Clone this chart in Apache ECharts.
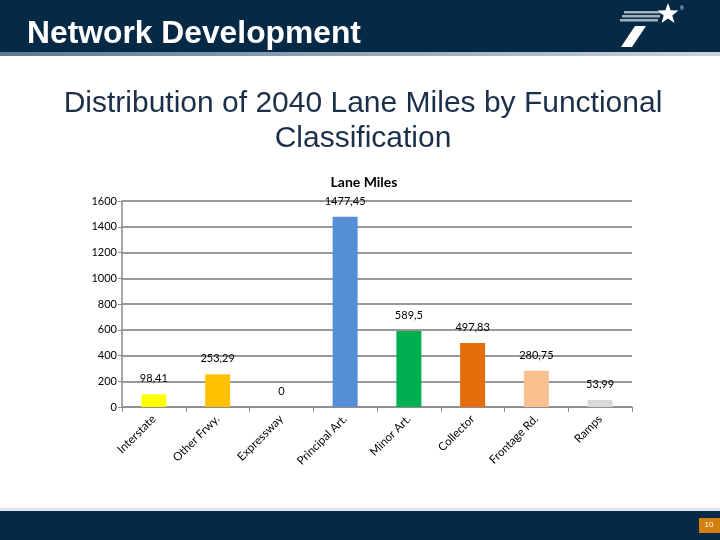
<!DOCTYPE html>
<html>
<head>
<meta charset="utf-8">
<script src="https://cdn.jsdelivr.net/npm/echarts@6/dist/echarts.min.js"></script>
<style>
html,body{margin:0;padding:0;background:#fff;}
#chart{width:720px;height:540px;}
</style>
</head>
<body>
<div id="chart"></div>
<script>
const categories = ['Interstate', 'Other Frwy.', 'Expressway', 'Principal Art.', 'Minor Art.', 'Collector', 'Frontage Rd.', 'Ramps'];
const laneMiles = [98.41, 253.29, 0, 1477.45, 589.5, 497.83, 280.75, 53.99];
const barColors = ['#ffff00', '#ffc000', '#4f81bd', '#558ed5', '#00b050', '#e46c0a', '#fac090', '#d9d9d9'];
const yTicks = [0, 200, 400, 600, 800, 1000, 1200, 1400, 1600];

const chart = echarts.init(document.getElementById('chart'));
const navy = '#062a45';

function starPoints(cx, cy, R, r) {
  const p = [];
  for (let i = 0; i < 10; i++) {
    const a = -Math.PI / 2 + i * Math.PI / 5;
    const rr = i % 2 ? r : R;
    p.push([cx + rr * Math.cos(a), cy + rr * Math.sin(a)]);
  }
  return p;
}

chart.setOption({
  animation: false,
  backgroundColor: '#ffffff',
  title: [
    {text: 'Lane Miles', left: 359, top: 170, textAlign: 'center',
     textStyle: {color: '#000', fontFamily: 'Lato', fontWeight: 'bold', fontSize: 14}}
  ],
  graphic: [
    {type: 'rect', shape: {x: 0, y: 0, width: 720, height: 52}, style: {fill: navy}, z: -1},
    {type: 'rect', shape: {x: 0, y: 52, width: 720, height: 4},
     style: {fill: new echarts.graphic.LinearGradient(0, 0, 1, 0, [{offset: 0, color: '#5d7a92'}, {offset: 1, color: '#c9d3db'}])}, z: -1},
    {type: 'rect', shape: {x: 0, y: 508, width: 720, height: 3}, style: {fill: '#dfe5ea'}, z: -1},
    {type: 'rect', shape: {x: 0, y: 511, width: 720, height: 29}, style: {fill: navy}, z: -1},
    {type: 'rect', shape: {x: 699, y: 518, width: 21, height: 15}, style: {fill: '#d4800c'}},
    {type: 'text', x: 709, y: 525, style: {text: '10', fill: '#fff', fontSize: 8, fontFamily: 'Liberation Sans', align: 'center', verticalAlign: 'middle'}},
    {type: 'text', x: 27, y: 34, z: 10, style: {text: 'Network Development', fill: '#ffffff', fontFamily: 'Liberation Sans', fontWeight: 'bold', fontSize: 31.8, align: 'left', verticalAlign: 'middle'}},
    {type: 'text', x: 363, y: 104, style: {text: 'Distribution of 2040 Lane Miles by Functional', fill: '#1b3048', fontFamily: 'Liberation Sans', fontSize: 30, align: 'center', verticalAlign: 'middle'}},
    {type: 'text', x: 363, y: 139, style: {text: 'Classification', fill: '#1b3048', fontFamily: 'Liberation Sans', fontSize: 30, align: 'center', verticalAlign: 'middle'}},
    // logo
    {type: 'rect', shape: {x: 624, y: 11, width: 38, height: 2.5}, style: {fill: '#9fb0c0'}},
    {type: 'rect', shape: {x: 622, y: 15, width: 38, height: 2.5}, style: {fill: '#9fb0c0'}},
    {type: 'rect', shape: {x: 620, y: 19, width: 38, height: 2.5}, style: {fill: '#9fb0c0'}},
    {type: 'polygon', shape: {points: [[621, 47], [632, 47], [646, 26], [635, 26]]}, style: {fill: '#ffffff'}},
    {type: 'polygon', shape: {points: starPoints(668, 14, 11, 4.5)}, style: {fill: '#ffffff'}},
    {type: 'text', x: 680, y: 6, style: {text: '®', fill: '#fff', fontSize: 5, fontFamily: 'Liberation Sans'}}
  ],
  grid: {left: 122, right: 88, top: 201, bottom: 133, containLabel: false},
  xAxis: {
    type: 'category',
    data: categories,
    axisLine: {lineStyle: {color: '#8c8c8c', width: 1.5}},
    axisTick: {show: true, alignWithLabel: false, length: 5, lineStyle: {color: '#8c8c8c'}},
    axisLabel: {rotate: 45, margin: 10, color: '#000', fontFamily: 'Lato', fontSize: 11.5, interval: 0}
  },
  yAxis: {
    type: 'value',
    min: 0, max: 1600, interval: 200,
    axisLine: {show: true, lineStyle: {color: '#8c8c8c', width: 1.5}},
    axisTick: {show: true, length: 4, lineStyle: {color: '#8c8c8c'}},
    axisLabel: {color: '#000', fontFamily: 'Lato', fontSize: 11, margin: 5,
      formatter: v => yTicks.includes(v) ? String(v) : ''},
    splitLine: {lineStyle: {color: '#999999', width: 2}}
  },
  series: [{
    type: 'bar',
    barWidth: 25,
    data: laneMiles.map((v, i) => ({value: v, itemStyle: {color: barColors[i]}})),
    label: {show: true, position: 'top', distance: 10, color: '#000', fontFamily: 'Lato', fontSize: 11,
      formatter: p => String(p.value).replace('.', ',')}
  }]
});
</script>
</body>
</html>
